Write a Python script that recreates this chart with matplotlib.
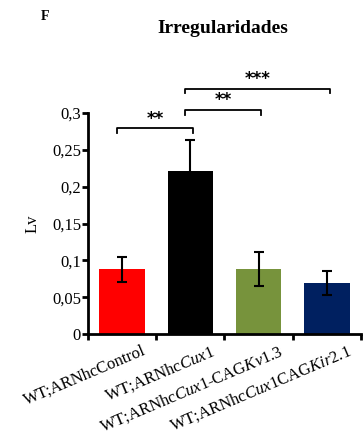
import matplotlib.pyplot as plt
from matplotlib.ticker import FixedLocator, FuncFormatter
import matplotlib.transforms as mtransforms

plt.rcParams['font.family'] = 'Liberation Serif'
plt.rcParams['mathtext.fontset'] = 'custom'
plt.rcParams['mathtext.rm'] = 'Liberation Serif'
plt.rcParams['mathtext.it'] = 'Liberation Serif:italic'

# data
groups = [r'WT;ARNhcControl',
          r'WT;ARNhc$\mathit{Cux1}$',
          r'WT;ARNhc$\mathit{Cux1}$-CAG$\mathit{Kv1.3}$',
          r'WT;ARNhc$\mathit{Cux1}$CAG$\mathit{Kir2.1}$']
means = [0.088, 0.221, 0.088, 0.069]
errors = [0.017, 0.043, 0.023, 0.016]
colors = ['#ff0000', '#000000', '#77933c', '#002060']

# significance brackets: (from group, to group, label)
comparisons = [(0, 1, '**'), (1, 2, '**'), (1, 3, '***')]
bracket_y = [0.279, 0.304, 0.333]

fig = plt.figure(figsize=(3.63, 4.45), dpi=100)
ax = fig.add_axes([0.2424, 0.2494, 0.7521, 0.4966])

x = list(range(len(means)))
ax.bar(x, means, width=0.67, color=colors)
ax.errorbar(x, means, yerr=errors, fmt='none', ecolor='black',
            elinewidth=1.5, capsize=3.5, capthick=1.5)

ax.set_xlim(-0.5, len(means) - 0.5)
ax.set_ylim(0, 0.3)

ax.spines['top'].set_visible(False)
ax.spines['right'].set_visible(False)
ax.spines['left'].set_linewidth(2)
ax.spines['bottom'].set_linewidth(2)

ax.set_yticks([0, 0.05, 0.1, 0.15, 0.2, 0.25, 0.3])
ax.yaxis.set_major_formatter(FuncFormatter(
    lambda v, p: ('%g' % round(v, 2)).replace('.', ',')))
ax.tick_params(axis='y', direction='out', length=4, width=2, labelsize=12, pad=1)

# boundary ticks and labels at bar centers
ax.xaxis.set_minor_locator(FixedLocator([i - 0.5 for i in range(len(means) + 1)]))
ax.tick_params(axis='x', which='minor', direction='out', length=4, width=2)
ax.set_xticks(x)
ax.set_xticklabels(groups, rotation=23, ha='right', rotation_mode='anchor')
ax.tick_params(axis='x', which='major', length=0, labelsize=12, pad=6)
offset = mtransforms.ScaledTranslation(0.2, 0, fig.dpi_scale_trans)
for lab in ax.get_xticklabels():
    lab.set_transform(lab.get_transform() + offset)

ax.set_ylabel('Lv', fontsize=12, labelpad=8)

for (a, b, lab), yb in zip(comparisons, bracket_y):
    x1, x2 = a - 0.08, b + 0.04
    ax.plot([x1, x1, x2, x2], [yb - 0.006, yb, yb, yb - 0.006],
            color='black', lw=1.3, clip_on=False)
    ax.text((x1 + x2) / 2, yb + 0.001, lab, ha='center', va='bottom',
            fontsize=12, fontweight='bold', family='DejaVu Sans', clip_on=False)

fig.text(0.615, 0.935, 'Irregularidades', ha='center', va='center',
         fontsize=14, fontweight='bold')
fig.text(0.113, 0.962, 'F', ha='left', va='center', fontsize=10,
         fontweight='bold')

fig.savefig('out.png', dpi=100)
